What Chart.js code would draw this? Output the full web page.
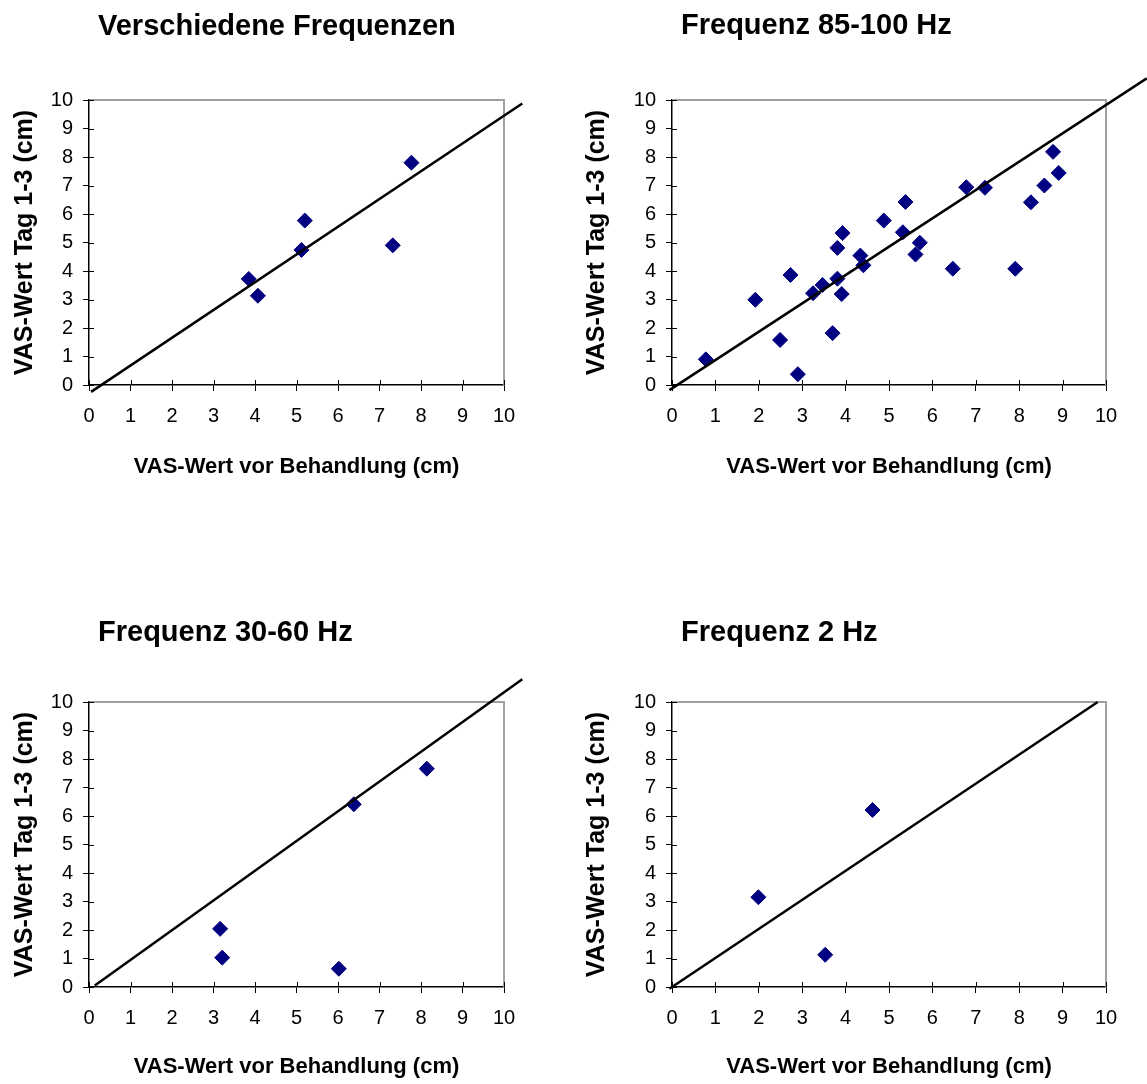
<!DOCTYPE html>
<html>
<head>
<meta charset="utf-8">
<script src="https://cdn.jsdelivr.net/npm/chart.js@4/dist/chart.umd.min.js"></script>
<style>
  html, body { margin: 0; padding: 0; background: #ffffff; }
  #sheet { position: relative; width: 1147px; height: 1084px; overflow: hidden; }
  .panel { position: absolute; }
  .panel canvas { display: block; }
</style>
</head>
<body>
<div id="sheet">
  <div class="panel" style="left:0px;top:0px"><canvas id="c0" width="573" height="542"></canvas></div>
  <div class="panel" style="left:573px;top:0px"><canvas id="c1" width="574" height="542"></canvas></div>
  <div class="panel" style="left:0px;top:542px"><canvas id="c2" width="573" height="542"></canvas></div>
  <div class="panel" style="left:573px;top:542px"><canvas id="c3" width="574" height="542"></canvas></div>
</div>
<script>
// ---- Texts and tick labels ----
const panelTitles = ['Verschiedene Frequenzen', 'Frequenz 85-100 Hz', 'Frequenz 30-60 Hz', 'Frequenz 2 Hz'];
const xAxisTitle = 'VAS-Wert vor Behandlung (cm)';
const yAxisTitle = 'VAS-Wert Tag 1-3 (cm)';
const xTickValues = [0, 1, 2, 3, 4, 5, 6, 7, 8, 9, 10];
const yTickValues = [0, 1, 2, 3, 4, 5, 6, 7, 8, 9, 10];

// ---- Verschiedene Frequenzen ----
const mixedBefore = [3.85, 4.07, 5.12, 5.20, 7.32, 7.77];
const mixedAfter  = [3.72, 3.13, 4.74, 5.77, 4.90, 7.80];
const mixedTrendX = [0.05, 10.44];
const mixedTrendY = [-0.24, 9.88];

// ---- Frequenz 85-100 Hz ----
const highBefore = [0.78, 1.92, 2.49, 2.73, 2.90, 3.25, 3.47, 3.70, 3.81, 3.81, 3.91, 3.93, 4.34, 4.41,
                    4.88, 5.32, 5.38, 5.61, 5.71, 6.47, 6.78, 7.21, 7.91, 8.27, 8.58, 8.78, 8.91];
const highAfter  = [0.90, 2.99, 1.58, 3.86, 0.38, 3.22, 3.51, 1.82, 4.81, 3.73, 3.19, 5.33, 4.54, 4.20,
                    5.77, 5.36, 6.42, 4.58, 4.99, 4.08, 6.94, 6.92, 4.08, 6.41, 7.00, 8.18, 7.44];
const highTrendX = [-0.06, 10.94];
const highTrendY = [-0.18, 10.76];

// ---- Frequenz 30-60 Hz ----
const midBefore = [3.16, 3.21, 6.02, 6.38, 8.14];
const midAfter  = [2.04, 1.03, 0.64, 6.41, 7.66];
const midTrendX = [0.14, 10.44];
const midTrendY = [0.05, 10.80];

// ---- Frequenz 2 Hz ----
const lowBefore = [1.99, 3.53, 4.62];
const lowAfter  = [3.15, 1.13, 6.21];
const lowTrendX = [-0.06, 9.81];
const lowTrendY = [-0.06, 10.00];

const toPoints = (xs, ys) => xs.map((v, i) => ({ x: v, y: ys[i] }));

const FONT = "'Liberation Sans', Arial, Helvetica, sans-serif";
const MARKER = '#000080';

// Gray frame on the top/right of the plot area plus the inner half of the cross tick marks
const framePlugin = {
  id: 'frame',
  beforeDatasetsDraw(chart) {
    const { ctx, chartArea: a, scales } = chart;
    ctx.save();
    ctx.strokeStyle = '#a0a0a0';
    ctx.lineWidth = 2;
    ctx.beginPath();
    ctx.moveTo(a.left, a.top);
    ctx.lineTo(a.right, a.top);
    ctx.lineTo(a.right, a.bottom);
    ctx.stroke();
    ctx.strokeStyle = '#000000';
    ctx.lineWidth = 1;
    ctx.beginPath();
    scales.x.ticks.forEach(t => {
      const p = Math.round(scales.x.getPixelForValue(t.value)) + 0.5;
      ctx.moveTo(p, a.bottom);
      ctx.lineTo(p, a.bottom - 5);
    });
    scales.y.ticks.forEach(t => {
      const p = Math.round(scales.y.getPixelForValue(t.value)) + 0.5;
      ctx.moveTo(a.left, p);
      ctx.lineTo(a.left + 5, p);
    });
    ctx.stroke();
    ctx.restore();
  }
};

// Shift the chart title so it starts just inside the plot's left edge
const titleShift = {
  id: 'titleShift',
  afterLayout(chart, args, opts) {
    const t = chart.titleBlock;
    if (!t) return;
    const w = t.right - t.left;
    t.left = chart.chartArea.left + (opts.offset || 0);
    t.right = t.left + w;
  }
};

const panels = [
  { id: 'c0', title: panelTitles[0], pts: toPoints(mixedBefore, mixedAfter), trend: toPoints(mixedTrendX, mixedTrendY),
    area: { left: 89, right: 504, top: 100, bottom: 385 }, titleMid: 27, xTitleMid: 467, yTitleMid: 25 },
  { id: 'c1', title: panelTitles[1], pts: toPoints(highBefore, highAfter), trend: toPoints(highTrendX, highTrendY),
    area: { left: 99, right: 533, top: 100, bottom: 385 }, titleMid: 26, xTitleMid: 467, yTitleMid: 24 },
  { id: 'c2', title: panelTitles[2], pts: toPoints(midBefore, midAfter), trend: toPoints(midTrendX, midTrendY),
    area: { left: 89, right: 504, top: 160, bottom: 445 }, titleMid: 91, xTitleMid: 525, yTitleMid: 25 },
  { id: 'c3', title: panelTitles[3], pts: toPoints(lowBefore, lowAfter), trend: toPoints(lowTrendX, lowTrendY),
    area: { left: 99, right: 533, top: 160, bottom: 445 }, titleMid: 91, xTitleMid: 525, yTitleMid: 24 }
];

const TITLE_SIZE = 29, XT_SIZE = 22, YT_SIZE = 25, TICK_SIZE = 20;

panels.forEach(p => {
  const canvas = document.getElementById(p.id);
  const W = canvas.width, H = canvas.height;
  const titleLH = TITLE_SIZE * 1.2;
  const xtLH = XT_SIZE * 1.2;
  const ytLH = YT_SIZE * 1.2;
  const xAxisBottom = p.xTitleMid + xtLH / 2;

  new Chart(canvas, {
    type: 'scatter',
    data: {
      datasets: [
        {
          data: p.pts,
          pointStyle: 'rectRot',
          pointRadius: 7.5,
          pointHoverRadius: 7.5,
          backgroundColor: MARKER,
          borderColor: MARKER,
          borderWidth: 1,
          order: 1
        },
        {
          data: p.trend,
          showLine: true,
          pointRadius: 0,
          pointHoverRadius: 0,
          borderColor: '#000000',
          borderWidth: 2.5,
          fill: false,
          clip: false,
          order: 0
        }
      ]
    },
    options: {
      responsive: false,
      animation: false,
      events: [],
      layout: {
        padding: { left: 0, top: 0, right: W - p.area.right, bottom: H - xAxisBottom }
      },
      plugins: {
        legend: { display: false },
        tooltip: { enabled: false },
        title: {
          display: true,
          text: p.title,
          align: 'start',
          fullSize: false,
          color: '#000000',
          font: { family: FONT, size: TITLE_SIZE, weight: 'bold', lineHeight: 1.2 },
          padding: { top: p.titleMid - titleLH / 2, bottom: p.area.top - p.titleMid - titleLH / 2 }
        },
        titleShift: { offset: 9 }
      },
      scales: {
        x: {
          type: 'linear',
          min: 0,
          max: 10,
          afterBuildTicks: s => { s.ticks = xTickValues.map(v => ({ value: v })); },
          afterFit: s => { s.height = xAxisBottom - p.area.bottom; },
          ticks: {
            color: '#000000',
            padding: 13,
            maxRotation: 0,
            autoSkip: false,
            font: { family: FONT, size: TICK_SIZE, lineHeight: 1.2 }
          },
          grid: { drawOnChartArea: false, drawTicks: true, tickLength: 6, color: '#000000', lineWidth: 1 },
          border: { display: true, color: '#000000', width: 1.5 },
          title: {
            display: true,
            text: xAxisTitle,
            color: '#000000',
            padding: 0,
            font: { family: FONT, size: XT_SIZE, weight: 'bold', lineHeight: 1.2 }
          }
        },
        y: {
          type: 'linear',
          min: 0,
          max: 10,
          afterBuildTicks: s => { s.ticks = yTickValues.map(v => ({ value: v })); },
          afterFit: s => { s.width = p.area.left; },
          ticks: {
            color: '#000000',
            padding: 10,
            autoSkip: false,
            font: { family: FONT, size: TICK_SIZE, lineHeight: 1.2 }
          },
          grid: { drawOnChartArea: false, drawTicks: true, tickLength: 6, color: '#000000', lineWidth: 1 },
          border: { display: true, color: '#000000', width: 1.5 },
          title: {
            display: true,
            text: yAxisTitle,
            color: '#000000',
            padding: { top: p.yTitleMid - ytLH / 2, bottom: 0 },
            font: { family: FONT, size: YT_SIZE, weight: 'bold', lineHeight: 1.2 }
          }
        }
      }
    },
    plugins: [framePlugin, titleShift]
  });
});
</script>
</body>
</html>
